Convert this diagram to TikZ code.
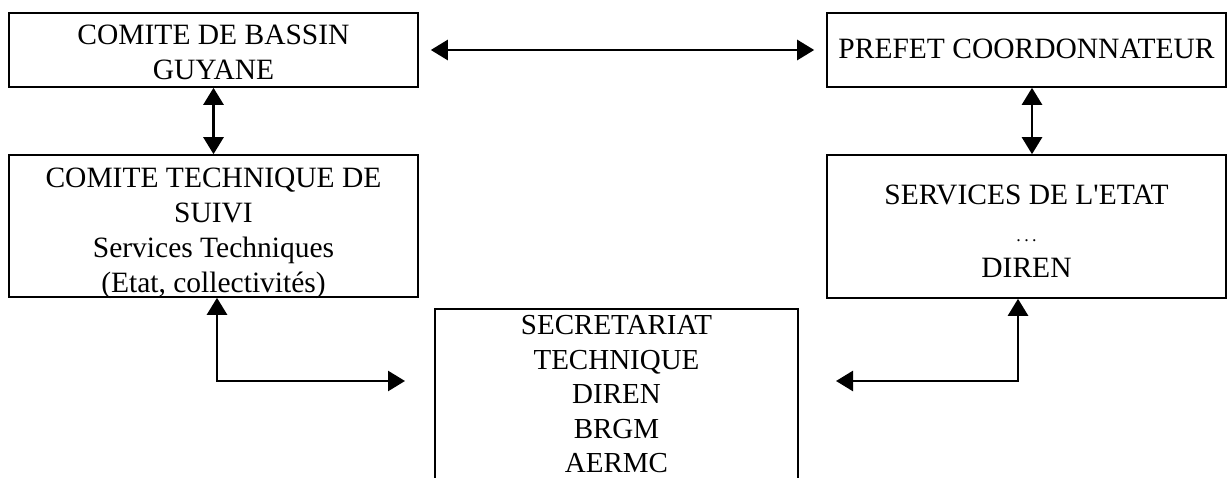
\documentclass[tikz,border=0pt]{standalone}
\usepackage{fontspec}
\setmainfont{Liberation Serif}
\newfontfamily\apfont{Liberation Serif}[Ligatures=TeXOff]
\usetikzlibrary{arrows.meta}
\begin{document}
\begin{tikzpicture}[x=1pt,y=-1pt,
  box/.style={draw, line width=1.6pt, inner sep=0pt},
  txt/.style={inner sep=0pt, align=center, font=\fontsize{29.5}{35}\selectfont},
  link/.style={line width=2.6pt, {Triangle[length=17pt,width=20pt]}-{Triangle[length=17pt,width=20pt]}}]
\useasboundingbox (0,0) rectangle (1228,478);
\node[box, minimum width=409pt, minimum height=74pt] (A) at (213.5,50) {};
\node[txt, yshift=-2pt] (At) at (A.center) {COMITE DE BASSIN\\GUYANE};
\node[box, minimum width=399pt, minimum height=74pt] (B) at (1026.5,50) {};
\node[txt, yshift=1pt] (Bt) at (B.center) {PREFET COORDONNATEUR};
\node[box, minimum width=409pt, minimum height=142pt] (C) at (213.5,226) {};
\node[txt, yshift=-7pt] (Ct) at (C.center) {COMITE TECHNIQUE DE\\SUIVI\\Services Techniques\\(Etat, collectivités)};
\node[box, minimum width=399pt, minimum height=143pt] (D) at (1026.5,226.5) {};
\node[txt, yshift=-5pt, font=\fontsize{29.5}{36.5}\selectfont] (Dt) at (D.center) {SERVICES DE L{\apfont '}ETAT\\{\fontsize{18}{36.5}\selectfont .\hspace{3.5pt}.\hspace{3.5pt}.}\\DIREN};
\node[txt, anchor=north, minimum width=363pt, text depth=0pt, font=\fontsize{29}{34.5}\selectfont] (E) at (616.5,315.5) {SECRETARIAT\\TECHNIQUE\\DIREN\\BRGM\\AERMC};
\coordinate (Enw) at (435,309);
\coordinate (Ene) at (798,309);
\draw[line width=1.6pt] (Enw |- 0,478) -- (Enw) -- (Ene) -- (Ene |- 0,478);
\draw[link] ([xshift=12pt]A.east) -- ([xshift=-12pt]B.west);
\draw[link] (A.south) -- (C.north);
\draw[link] ([xshift=5.5pt]B.south) -- ([xshift=5.5pt]D.north);
\coordinate (l1) at (405,381);
\coordinate (r1) at (836,381);
\draw[link] ([xshift=3.5pt]C.south) |- (l1);
\draw[link] ([xshift=-8.5pt]D.south) |- (r1);
\end{tikzpicture}
\end{document}
